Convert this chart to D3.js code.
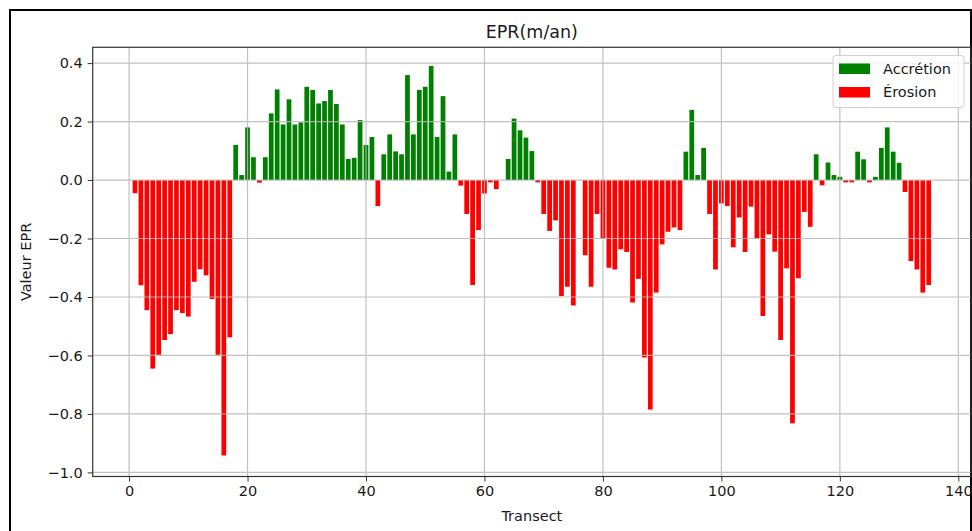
<!DOCTYPE html>
<html>
<head>
<meta charset="utf-8">
<script src="https://cdn.jsdelivr.net/npm/d3@7"></script>
<style>
  html, body { margin: 0; padding: 0; background: #fff; }
  svg { display: block; }
  text { font-family: "DejaVu Sans", sans-serif; fill: #1a1a1a; }
</style>
</head>
<body>
<svg id="chart" width="972" height="531"></svg>
<script>
// EPR (End Point Rate, m/an) per transect
const epr = [
  -0.045, -0.36, -0.445, -0.645, -0.598, -0.547, -0.527, -0.445, -0.455, -0.467,
  -0.348, -0.305, -0.326, -0.407, -0.598, -0.942, -0.538, 0.12, 0.017, 0.18,
  0.078, -0.009, 0.078, 0.228, 0.31, 0.19, 0.276, 0.19, 0.197, 0.319,
  0.308, 0.262, 0.27, 0.308, 0.26, 0.19, 0.072, 0.076, 0.205, 0.12,
  0.147, -0.089, 0.088, 0.156, 0.098, 0.088, 0.359, 0.156, 0.308, 0.319,
  0.39, 0.147, 0.287, 0.029, 0.156, -0.019, -0.116, -0.359, -0.171, -0.046,
  -0.008, -0.031, 0, 0.072, 0.21, 0.17, 0.145, 0.099, -0.008, -0.116,
  -0.174, -0.138, -0.397, -0.365, -0.429, 0, -0.257, -0.365, -0.116, -0.2,
  -0.3, -0.306, -0.237, -0.246, -0.419, -0.338, -0.607, -0.785, -0.385, -0.22,
  -0.177, -0.162, -0.171, 0.097, 0.24, 0.017, 0.11, -0.116, -0.306, -0.08,
  -0.089, -0.23, -0.128, -0.246, -0.091, -0.2, -0.465, -0.186, -0.245, -0.547,
  -0.302, -0.832, -0.336, -0.109, -0.16, 0.088, -0.018, 0.06, 0.017, 0.011,
  -0.008, -0.008, 0.097, 0.071, -0.008, 0.011, 0.11, 0.18, 0.097, 0.059,
  -0.041, -0.277, -0.306, -0.385, -0.359
];
const transects = d3.range(1, epr.length + 1);

const xTicks = [0, 20, 40, 60, 80, 100, 120, 140];
const yTicks = [-1.0, -0.8, -0.6, -0.4, -0.2, 0.0, 0.2, 0.4];
const legendLabels = ["Accrétion", "Érosion"];
const legendColors = ["#008000", "#ff0000"];

const titleText = "EPR(m/an)";
const xLabel = "Transect";
const yLabel = "Valeur EPR";

const svg = d3.select("#chart");

// outer frame
svg.append("path")
  .attr("d", "M10,531 L10,10 L971,10 L971,531")
  .attr("fill", "none")
  .attr("stroke", "#000")
  .attr("stroke-width", 2);

const plot = { left: 92.7, right: 971, top: 47.3, bottom: 476.5 };

const x = d3.scaleLinear().domain([-6.14, 142.14]).range([plot.left, plot.right]);
const y = d3.scaleLinear().domain([-1.014, 0.454]).range([plot.bottom, plot.top]);
const barW = 0.8;

// bars
svg.append("g")
  .selectAll("rect")
  .data(transects)
  .join("rect")
  .attr("x", (t) => x(t - barW / 2))
  .attr("width", (t) => x(t + barW / 2) - x(t - barW / 2))
  .attr("y", (t, i) => y(Math.max(0, epr[i])))
  .attr("height", (t, i) => Math.abs(y(epr[i]) - y(0)))
  .attr("fill", (t, i) => (epr[i] >= 0 ? legendColors[0] : legendColors[1]));

// grid (drawn over the bars)
const grid = svg.append("g").attr("stroke", "#b8b8b8").attr("stroke-width", 1.2).attr("opacity", 0.85);
grid.selectAll("line.v").data(xTicks).join("line")
  .attr("class", "v")
  .attr("x1", (d) => x(d)).attr("x2", (d) => x(d))
  .attr("y1", plot.top).attr("y2", plot.bottom);
grid.selectAll("line.h").data(yTicks).join("line")
  .attr("class", "h")
  .attr("x1", plot.left).attr("x2", plot.right)
  .attr("y1", (d) => y(d)).attr("y2", (d) => y(d));

// axes
const fmtY = (d) => d3.format(".1f")(d).replace("-", "\u2212");
const xAxis = d3.axisBottom(x).tickValues(xTicks).tickFormat(d3.format("d")).tickSize(5).tickPadding(4);
const yAxis = d3.axisLeft(y).tickValues(yTicks).tickFormat(fmtY).tickSize(5).tickPadding(5);

const gx = svg.append("g").attr("transform", `translate(0,${plot.bottom})`).call(xAxis);
const gy = svg.append("g").attr("transform", `translate(${plot.left},0)`).call(yAxis);
[gx, gy].forEach((g) => {
  g.select(".domain").remove();
  g.selectAll(".tick line").attr("stroke", "#333").attr("stroke-width", 1);
  g.selectAll(".tick text").attr("font-size", 14.5).attr("font-family", "DejaVu Sans").attr("fill", "#1a1a1a");
});

// spines
svg.append("rect")
  .attr("x", plot.left).attr("y", plot.top)
  .attr("width", plot.right - plot.left).attr("height", plot.bottom - plot.top)
  .attr("fill", "none").attr("stroke", "#333").attr("stroke-width", 1.2);

// title and axis labels
svg.append("text")
  .attr("x", (plot.left + plot.right) / 2).attr("y", 38)
  .attr("text-anchor", "middle").attr("font-size", 17.5)
  .text(titleText);
svg.append("text")
  .attr("x", (plot.left + plot.right) / 2).attr("y", 521)
  .attr("text-anchor", "middle").attr("font-size", 14.5)
  .text(xLabel);
svg.append("text")
  .attr("transform", `translate(31,${(plot.top + plot.bottom) / 2}) rotate(-90)`)
  .attr("text-anchor", "middle").attr("font-size", 14.5)
  .text(yLabel);

// legend
const lg = svg.append("g").attr("transform", "translate(833,55.5)");
lg.append("rect")
  .attr("width", 131).attr("height", 52).attr("rx", 3)
  .attr("fill", "#fff").attr("fill-opacity", 0.8)
  .attr("stroke", "#d0d0d0").attr("stroke-width", 1);
legendLabels.forEach((lab, i) => {
  lg.append("rect")
    .attr("x", 6).attr("y", 8 + i * 23.5)
    .attr("width", 31).attr("height", 10.5)
    .attr("fill", legendColors[i]);
  lg.append("text")
    .attr("x", 50).attr("y", 18 + i * 23.5)
    .attr("font-size", 14.5)
    .text(lab);
});
</script>
</body>
</html>
